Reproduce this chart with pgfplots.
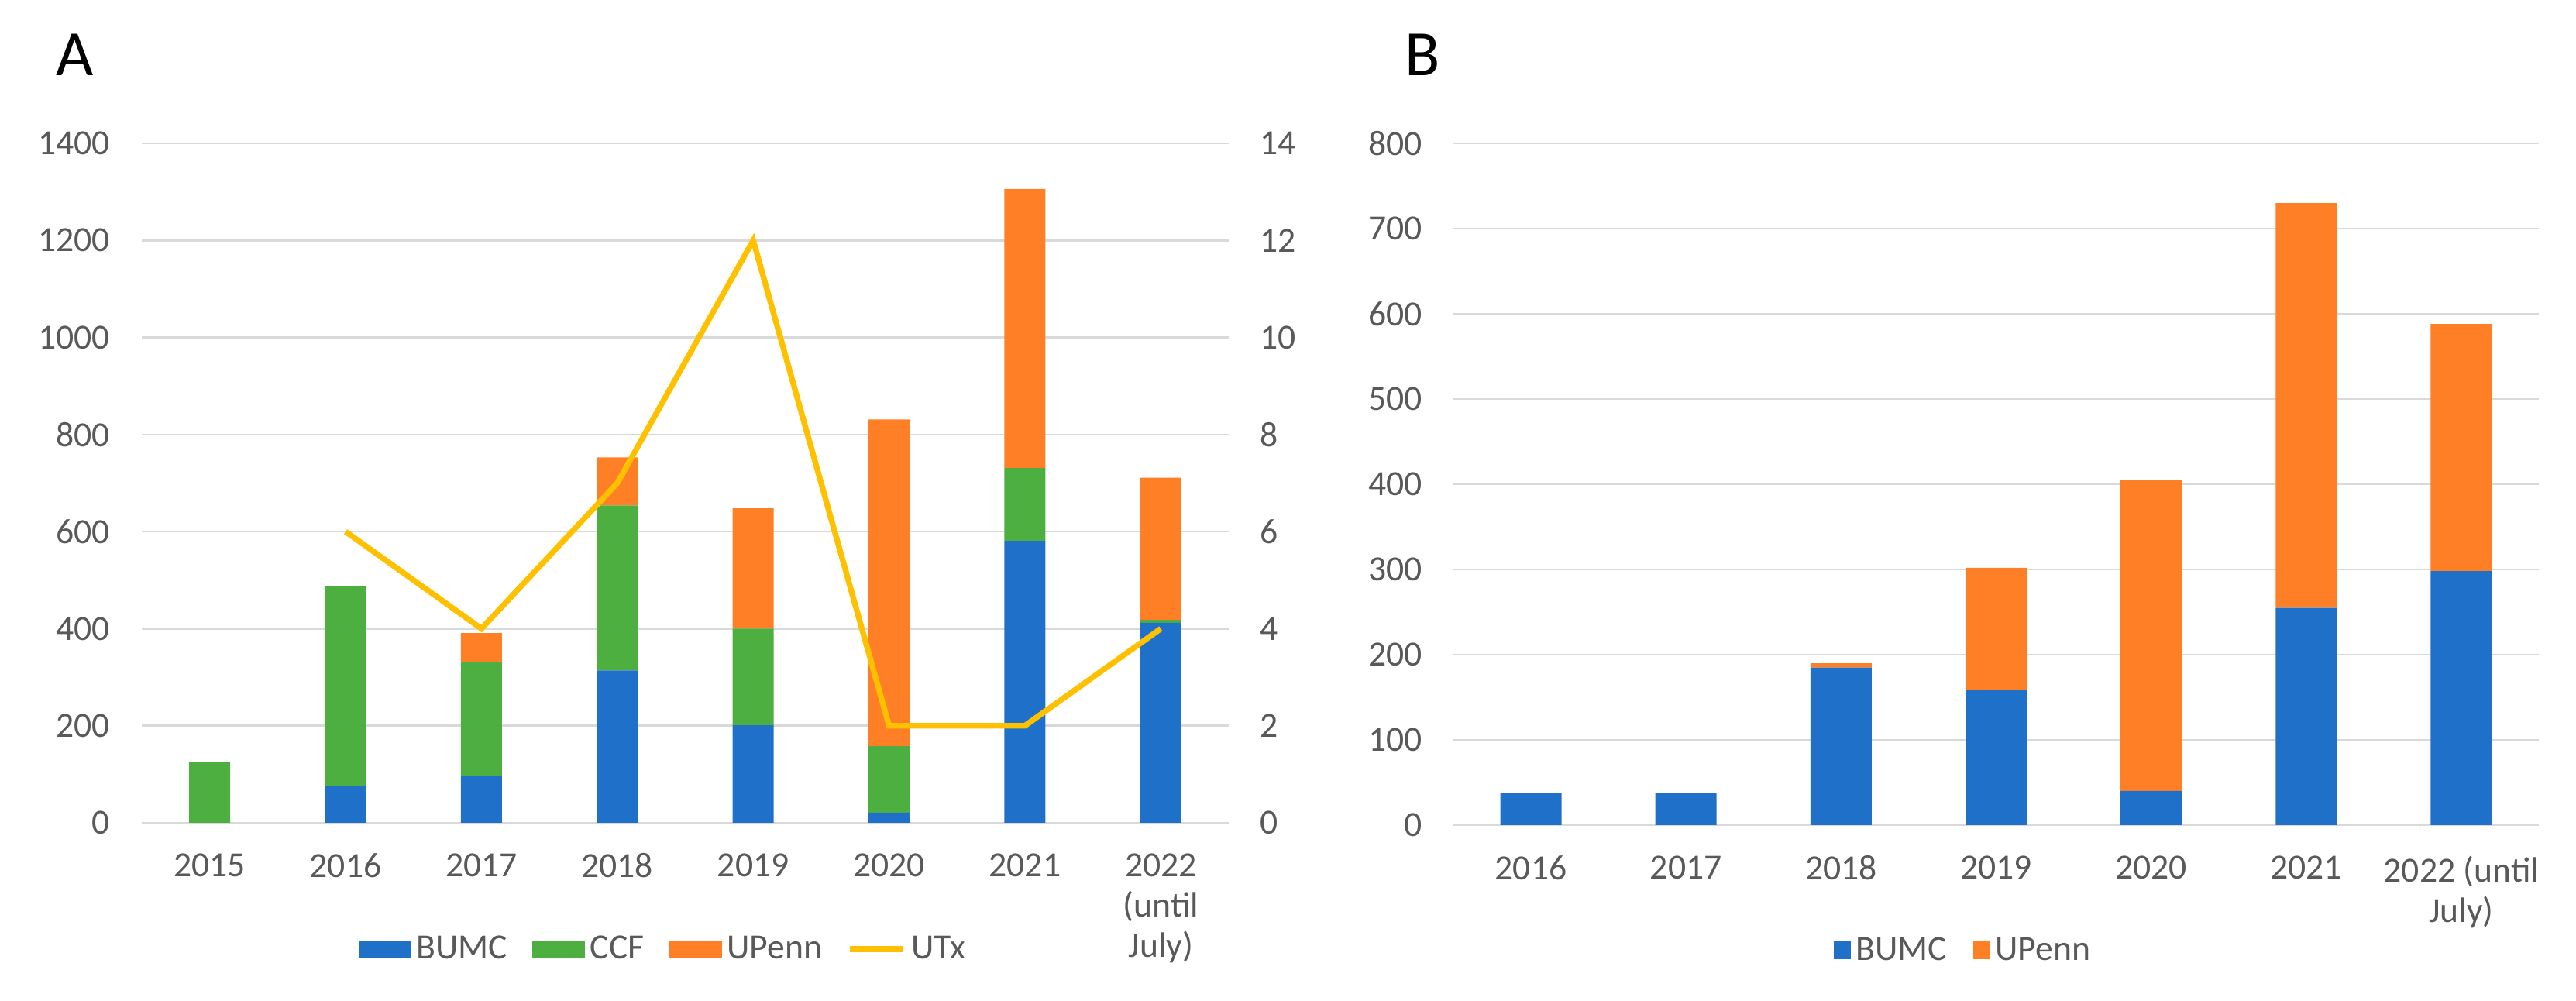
\documentclass[border=0pt]{standalone}
\usepackage{fontspec}
\setmainfont{Carlito}
\usepackage{pgfplots}
\pgfplotsset{compat=1.18}
\usepackage{pgfplotstable}

\definecolor{bumc}{HTML}{1F70C8}
\definecolor{ccf}{HTML}{4CAF3F}
\definecolor{upenn}{HTML}{FF7F27}
\definecolor{utx}{HTML}{FFC000}
\definecolor{txt}{HTML}{595959}
\definecolor{grd}{HTML}{D9D9D9}

% panel A: counts per site, 0 = 2015 ... 7 = 2022 (until July)
\pgfplotstableread{
x bumc ccf upenn
0 0   125 0
1 76  411 0
2 96  235 60
3 314 340 99
4 201 199 248
5 21  137 673
6 581 150 575
7 412 6   293
}\dataA

% UTx on the secondary axis
\pgfplotstableread{
x utx
1 6
2 4
3 7
4 12
5 2
6 2
7 4
}\dataUTx

% panel B: 0 = 2016 ... 6 = 2022 (until July)
\pgfplotstableread{
x bumc upenn
0 38  0
1 38  0
2 185 5
3 159 143
4 40  365
5 255 475
6 298 290
}\dataB

\pgfplotsset{
  excel/.style={
    scale only axis,
    anchor=south west,
    axis line style={draw=none},
    major tick length=0pt,
    grid style={grd, line width=0.8pt},
    tick label style={font=\fontsize{13.7}{15.6}\selectfont, text=txt},
    /pgf/number format/assume math mode=true,
    /pgf/number format/1000 sep={},
    scaled y ticks=false,
    xticklabel style={align=center, yshift=-8.4pt},
    legend style={draw=none, fill=none, legend columns=-1,
      font=\fontsize{13.7}{15.6}\selectfont, text=txt, anchor=center},
  },
  barA/.style={fill=#1, draw=none,
    legend image code/.code={\fill[##1] (0pt,-3.45pt) rectangle (20.4pt,3.45pt);}},
  barB/.style={fill=#1, draw=none,
    legend image code/.code={\fill[##1] (0pt,-3.45pt) rectangle (6.6pt,3.45pt);}},
  utxline/.style={utx, line width=2.4pt,
    legend image code/.code={\draw[##1] (0pt,0pt) -- (20.7pt,0pt);}},
}

\begin{document}
\begin{tikzpicture}
\path[use as bounding box] (0pt,0pt) rectangle (997.5pt,387.6pt);

\node[anchor=base, font=\fontsize{25}{30}\selectfont] at (29.1pt,358.2pt) {A};
\node[anchor=base, font=\fontsize{25}{30}\selectfont] at (550.8pt,358.2pt) {B};

% ---- A, bars
\begin{axis}[excel, at={(54.9pt,69pt)}, width=420.9pt, height=263.1pt,
  ybar stacked, bar width=15.9pt,
  xmin=-0.5, xmax=7.5, ymin=0, ymax=1400, ytick={0,200,...,1400},
  ymajorgrids, yticklabel style={xshift=-8.8pt},
  xtick={0,...,7},
  xticklabels={2015,2016,2017,2018,2019,2020,2021,{2022\\(until\\July)}},
  legend style={at={(0.481,-0.186)},
    /tikz/every even column/.append style={column sep=7.6pt}},
]
\addplot[barA=bumc] table[x=x,y=bumc] {\dataA};
\addlegendentry{BUMC}
\addplot[barA=ccf] table[x=x,y=ccf] {\dataA};
\addlegendentry{CCF}
\addplot[barA=upenn] table[x=x,y=upenn] {\dataA};
\addlegendentry{UPenn}
\addlegendimage{utxline}
\addlegendentry{UTx}
\end{axis}

% ---- A, UTx line on the right axis
\begin{axis}[excel, at={(54.9pt,69pt)}, width=420.9pt, height=263.1pt,
  xmin=-0.5, xmax=7.5, ymin=0, ymax=14, ytick={0,2,...,14},
  xtick=\empty, axis y line*=right, yticklabel style={xshift=8.6pt},
]
\addplot[utx, line width=2.2pt, line join=miter, mark=none] table[x=x,y=utx] {\dataUTx};
\end{axis}

% ---- B
\begin{axis}[excel, at={(562.8pt,68.1pt)}, width=420.3pt, height=264pt,
  ybar stacked, bar width=23.7pt,
  xmin=-0.5, xmax=6.5, ymin=0, ymax=800, ytick={0,100,...,800},
  ymajorgrids, yticklabel style={xshift=-8.6pt},
  xtick={0,...,6},
  xticklabels={2016,2017,2018,2019,2020,2021,{2022 (until\\July)}},
  legend style={at={(0.471,-0.184)},
    /tikz/every even column/.append style={column sep=8.2pt}},
]
\addplot[barB=bumc] table[x=x,y=bumc] {\dataB};
\addlegendentry{BUMC}
\addplot[barB=upenn] table[x=x,y=upenn] {\dataB};
\addlegendentry{UPenn}
\end{axis}
\end{tikzpicture}
\end{document}
